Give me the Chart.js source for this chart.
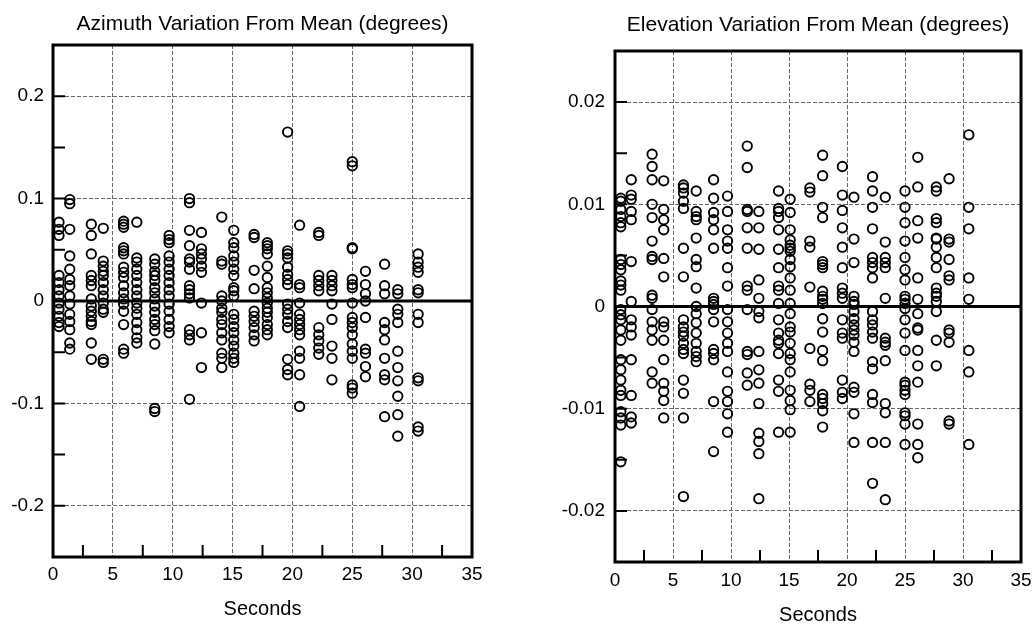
<!DOCTYPE html>
<html>
<head>
<meta charset="utf-8">
<script src="https://cdn.jsdelivr.net/npm/chart.js@4/dist/chart.umd.min.js"></script>
<style>
  html, body { margin: 0; padding: 0; background: #fff; }
  #wrap { position: relative; width: 1033px; height: 625px; overflow: hidden; }
  canvas { position: absolute; top: 0; }
</style>
</head>
<body>
<div id="wrap">
  <canvas id="az" width="520" height="625" style="left:0px"></canvas>
  <canvas id="el" width="513" height="625" style="left:520px"></canvas>
</div>
<script>
// ---- Data ----
const seconds = [0.5, 1.4, 3.2, 4.2, 5.9, 7.0, 8.5, 9.7, 11.4, 12.4, 14.1, 15.1,
                 16.8, 17.9, 19.6, 20.6, 22.2, 23.3, 25.0, 26.1, 27.7, 28.8, 30.5];

const azimuthValues = [
  [0.077, 0.070, 0.064, 0.025, 0.018, 0.011, 0.005, -0.002, -0.008, -0.015, -0.021, -0.025],
  [0.099, 0.095, 0.070, 0.044, 0.031, 0.021, 0.015, 0.005, -0.003, -0.013, -0.020, -0.028, -0.041, -0.047],
  [0.075, 0.064, 0.046, 0.025, 0.020, 0.015, 0.002, -0.005, -0.010, -0.015, -0.020, -0.023, -0.041, -0.057],
  [0.071, 0.039, 0.034, 0.029, 0.025, 0.018, 0.011, 0.005, -0.002, -0.008, -0.011, -0.057, -0.060],
  [0.078, 0.075, 0.072, 0.052, 0.049, 0.046, 0.033, 0.028, 0.023, 0.015, 0.008, 0.002, -0.003, -0.010, -0.023, -0.047, -0.051],
  [0.077, 0.042, 0.038, 0.031, 0.025, 0.018, 0.011, 0.005, -0.002, -0.007, -0.013, -0.021, -0.028, -0.036, -0.041],
  [0.041, 0.036, 0.029, 0.025, 0.020, 0.013, 0.008, 0.002, -0.005, -0.011, -0.018, -0.023, -0.029, -0.042, -0.105, -0.108],
  [0.064, 0.060, 0.057, 0.044, 0.038, 0.031, 0.025, 0.018, 0.011, 0.005, -0.003, -0.010, -0.018, -0.025, -0.031],
  [0.100, 0.096, 0.069, 0.054, 0.041, 0.038, 0.031, 0.015, 0.011, 0.007, 0.003, -0.028, -0.033, -0.038, -0.096],
  [0.067, 0.051, 0.046, 0.041, 0.034, 0.028, -0.002, -0.031, -0.065],
  [0.082, 0.039, 0.036, 0.005, 0.000, -0.007, -0.011, -0.018, -0.023, -0.031, -0.038, -0.051, -0.056, -0.065],
  [0.069, 0.057, 0.052, 0.044, 0.038, 0.031, 0.025, 0.013, 0.010, 0.005, -0.013, -0.018, -0.025, -0.031, -0.038, -0.044, -0.051, -0.056, -0.060],
  [0.065, 0.062, 0.030, 0.012, -0.010, -0.015, -0.020, -0.026, -0.033, -0.039],
  [0.057, 0.054, 0.051, 0.046, 0.034, 0.023, 0.013, 0.008, 0.003, -0.002, -0.007, -0.011, -0.016, -0.023, -0.028, -0.033],
  [0.165, 0.049, 0.046, 0.042, 0.033, 0.026, 0.021, 0.016, -0.003, -0.008, -0.013, -0.020, -0.026, -0.057, -0.067, -0.072],
  [0.074, 0.016, 0.013, -0.002, -0.013, -0.018, -0.023, -0.028, -0.033, -0.049, -0.056, -0.072, -0.103],
  [0.067, 0.064, 0.025, 0.020, 0.015, 0.010, -0.026, -0.033, -0.039, -0.046, -0.052],
  [0.025, 0.020, 0.015, 0.010, -0.003, -0.018, -0.044, -0.056, -0.077],
  [0.136, 0.132, 0.052, 0.051, 0.021, 0.016, 0.013, -0.002, -0.016, -0.021, -0.026, -0.033, -0.042, -0.049, -0.056, -0.082, -0.085, -0.090],
  [0.029, 0.016, 0.007, 0.000, -0.016, -0.047, -0.051, -0.064, -0.074],
  [0.036, 0.015, 0.007, -0.021, -0.028, -0.038, -0.056, -0.072, -0.077, -0.113],
  [0.011, 0.007, -0.008, -0.013, -0.021, -0.049, -0.065, -0.078, -0.093, -0.111, -0.132],
  [0.046, 0.038, 0.033, 0.028, 0.011, 0.008, -0.013, -0.021, -0.075, -0.078, -0.123, -0.127]
];

const elevationValues = [
  [0.0106, 0.0103, 0.0095, 0.0088, 0.0082, 0.0078, 0.0046, 0.0041, 0.0036, 0.0025, 0.0021, 0.0016, -0.0003, -0.0008, -0.0013, -0.0023, -0.0033, -0.0052, -0.0062, -0.0072, -0.0082, -0.0087, -0.0103, -0.0109, -0.0116, -0.0152],
  [0.0124, 0.0109, 0.0105, 0.0093, 0.0085, 0.0044, 0.0005, -0.0013, -0.0020, -0.0028, -0.0052, -0.0087, -0.0108, -0.0114],
  [0.0149, 0.0137, 0.0124, 0.0100, 0.0087, 0.0064, 0.0049, 0.0046, 0.0011, 0.0008, -0.0003, -0.0015, -0.0023, -0.0033, -0.0064, -0.0075],
  [0.0123, 0.0095, 0.0085, 0.0075, 0.0047, 0.0029, -0.0015, -0.0020, -0.0033, -0.0052, -0.0075, -0.0083, -0.0092, -0.0109],
  [0.0119, 0.0116, 0.0111, 0.0103, 0.0096, 0.0057, 0.0029, -0.0013, -0.0020, -0.0025, -0.0029, -0.0036, -0.0042, -0.0046, -0.0072, -0.0085, -0.0109, -0.0186],
  [0.0113, 0.0093, 0.0088, 0.0085, 0.0067, 0.0046, 0.0039, 0.0018, 0.0000, -0.0007, -0.0016, -0.0026, -0.0036, -0.0044, -0.0049, -0.0054],
  [0.0124, 0.0106, 0.0092, 0.0085, 0.0075, 0.0057, 0.0008, 0.0005, 0.0002, -0.0003, -0.0015, -0.0042, -0.0046, -0.0052, -0.0093, -0.0142],
  [0.0108, 0.0093, 0.0075, 0.0064, 0.0057, 0.0038, 0.0020, -0.0003, -0.0015, -0.0026, -0.0036, -0.0044, -0.0064, -0.0083, -0.0093, -0.0105, -0.0123],
  [0.0157, 0.0136, 0.0095, 0.0093, 0.0077, 0.0057, 0.0020, 0.0016, -0.0003, -0.0044, -0.0047, -0.0065, -0.0077],
  [0.0093, 0.0077, 0.0056, 0.0026, 0.0008, -0.0005, -0.0011, -0.0044, -0.0062, -0.0075, -0.0095, -0.0124, -0.0132, -0.0144, -0.0188],
  [0.0113, 0.0096, 0.0093, 0.0087, 0.0075, 0.0056, 0.0038, 0.0020, 0.0016, 0.0003, -0.0013, -0.0026, -0.0033, -0.0036, -0.0046, -0.0072, -0.0083, -0.0123],
  [0.0105, 0.0092, 0.0075, 0.0065, 0.0060, 0.0057, 0.0054, 0.0046, 0.0039, 0.0028, 0.0016, 0.0003, -0.0007, -0.0020, -0.0025, -0.0036, -0.0046, -0.0052, -0.0064, -0.0082, -0.0092, -0.0101, -0.0123],
  [0.0116, 0.0112, 0.0064, 0.0058, 0.0019, -0.0041, -0.0076, -0.0082, -0.0093],
  [0.0148, 0.0128, 0.0097, 0.0087, 0.0044, 0.0041, 0.0038, 0.0015, 0.0010, 0.0007, 0.0003, -0.0012, -0.0025, -0.0043, -0.0053, -0.0086, -0.0090, -0.0095, -0.0102, -0.0118],
  [0.0137, 0.0109, 0.0094, 0.0077, 0.0058, 0.0038, 0.0018, 0.0013, 0.0008, -0.0013, -0.0026, -0.0031, -0.0072, -0.0084, -0.0090],
  [0.0107, 0.0066, 0.0043, 0.0010, 0.0005, 0.0002, -0.0005, -0.0012, -0.0018, -0.0023, -0.0028, -0.0035, -0.0044, -0.0079, -0.0084, -0.0105, -0.0133],
  [0.0127, 0.0113, 0.0097, 0.0076, 0.0048, 0.0043, 0.0038, 0.0028, -0.0005, -0.0013, -0.0018, -0.0025, -0.0031, -0.0054, -0.0061, -0.0086, -0.0094, -0.0133, -0.0173],
  [0.0107, 0.0063, 0.0048, 0.0043, 0.0038, 0.0008, -0.0031, -0.0035, -0.0038, -0.0053, -0.0095, -0.0104, -0.0133, -0.0189],
  [0.0113, 0.0097, 0.0082, 0.0064, 0.0048, 0.0036, 0.0026, 0.0010, 0.0007, 0.0003, -0.0002, -0.0013, -0.0026, -0.0043, -0.0074, -0.0077, -0.0082, -0.0086, -0.0104, -0.0107, -0.0115, -0.0135],
  [0.0146, 0.0117, 0.0084, 0.0067, 0.0028, 0.0007, -0.0007, -0.0021, -0.0023, -0.0043, -0.0058, -0.0074, -0.0115, -0.0135, -0.0148],
  [0.0117, 0.0113, 0.0086, 0.0082, 0.0067, 0.0066, 0.0058, 0.0048, 0.0038, 0.0018, 0.0013, 0.0010, 0.0005, -0.0005, -0.0033, -0.0058],
  [0.0125, 0.0066, 0.0063, 0.0046, 0.0030, 0.0026, -0.0023, -0.0026, -0.0035, -0.0112, -0.0115],
  [0.0168, 0.0097, 0.0076, 0.0028, 0.0007, -0.0043, -0.0064, -0.0135]
];

const xTicks = [0, 5, 10, 15, 20, 25, 30, 35];
const xMinorTicks = [2.5, 7.5, 12.5, 17.5, 22.5, 27.5, 32.5];
const azYTicks = [-0.2, -0.1, 0, 0.1, 0.2];
const azYMinor = [-0.15, -0.05, 0.05, 0.15];
const azRange = [-0.25, 0.25];
const elYTicks = [-0.02, -0.01, 0, 0.01, 0.02];
const elYMinor = [-0.015, -0.005, 0.005, 0.015];
const elRange = [-0.025, 0.025];

// ---- Helpers ----
const FONT = "'Liberation Sans', Arial, Helvetica, sans-serif";

function toPoints(values) {
  const pts = [];
  values.forEach((col, i) => col.forEach(v => pts.push({ x: seconds[i], y: v })));
  return pts;
}

const frameTicks = {
  id: 'frameTicks',
  afterDatasetsDraw(chart, args, opts) {
    const { ctx, chartArea: a, scales: { x, y } } = chart;
    ctx.save();
    ctx.strokeStyle = '#000';
    ctx.lineWidth = 2;
    ctx.beginPath();
    opts.yMarks.forEach(v => {
      const py = y.getPixelForValue(v);
      ctx.moveTo(a.left, py); ctx.lineTo(a.left + opts.len, py);
    });
    opts.xMarks.forEach(v => {
      const px = x.getPixelForValue(v);
      ctx.moveTo(px, a.bottom); ctx.lineTo(px, a.bottom - opts.len);
    });
    ctx.stroke();
    ctx.lineWidth = 3;
    ctx.strokeRect(a.left, a.top, a.right - a.left, a.bottom - a.top);
    ctx.restore();
  }
};

function makeChart(id, cfg) {
  const ctx = document.getElementById(id).getContext('2d');
  return new Chart(ctx, {
    type: 'scatter',
    data: {
      datasets: [
        {
          type: 'line',
          data: [{ x: xTicks[0], y: 0 }, { x: xTicks[xTicks.length - 1], y: 0 }],
          borderColor: '#000', borderWidth: 3, pointRadius: 0, fill: false
        },
        {
          data: toPoints(cfg.values),
          pointStyle: 'circle',
          pointRadius: 4.7,
          borderWidth: 1.9,
          borderColor: '#000',
          backgroundColor: 'rgba(0,0,0,0)',
          pointBackgroundColor: 'rgba(0,0,0,0)'
        }
      ]
    },
    plugins: [frameTicks],
    options: {
      responsive: false,
      animation: false,
      devicePixelRatio: 1,
      layout: { padding: { left: 0, right: cfg.padRight, top: 0, bottom: 0 } },
      plugins: {
        legend: { display: false },
        tooltip: { enabled: false },
        title: {
          display: true, fullSize: false,
          text: cfg.title, color: '#000',
          font: { family: FONT, size: 21, weight: 'normal', lineHeight: 1 },
          padding: cfg.titlePad
        },
        frameTicks: { yMarks: cfg.yTicks.concat(cfg.yMinor), xMarks: xMinorTicks, len: 12 }
      },
      scales: {
        x: {
          type: 'linear', min: xTicks[0], max: xTicks[xTicks.length - 1],
          afterBuildTicks: s => { s.ticks = xTicks.map(v => ({ value: v })); },
          afterFit: s => { s.height = cfg.xHeight; s.paddingLeft = 0; s.paddingRight = 0; },
          grid: { color: '#666', lineWidth: 1, drawTicks: false },
          border: { display: false, dash: [4, 2] },
          ticks: {
            color: '#000', padding: cfg.xTickPad, maxRotation: 0, autoSkip: false,
            font: { family: FONT, size: 19, lineHeight: 1.2 },
            callback: v => String(v)
          },
          title: {
            display: true, text: 'Seconds', color: '#000',
            font: { family: FONT, size: 20, lineHeight: 1 },
            padding: { top: 0, bottom: cfg.secPad }
          }
        },
        y: {
          type: 'linear', min: cfg.range[0], max: cfg.range[1],
          afterBuildTicks: s => { s.ticks = cfg.yTicks.map(v => ({ value: v })); },
          afterFit: s => { s.width = cfg.yWidth; s.paddingTop = 0; s.paddingBottom = 0; },
          grid: { color: '#666', lineWidth: 1, drawTicks: false },
          border: { display: false, dash: [4, 2] },
          ticks: {
            color: '#000', padding: cfg.yTickPad, autoSkip: false,
            font: { family: FONT, size: 19, lineHeight: 1.2 },
            callback: v => String(v)
          }
        }
      }
    }
  });
}

makeChart('az', {
  title: 'Azimuth Variation From Mean (degrees)',
  values: azimuthValues, yTicks: azYTicks, yMinor: azYMinor, range: azRange,
  padRight: 48, yWidth: 53, xHeight: 68,
  titlePad: { top: 14, bottom: 10 },
  xTickPad: 6, yTickPad: 9, secPad: 6
});

makeChart('el', {
  title: 'Elevation Variation From Mean (degrees)',
  values: elevationValues, yTicks: elYTicks, yMinor: elYMinor, range: elRange,
  padRight: 12, yWidth: 95, xHeight: 63,
  titlePad: { top: 15, bottom: 15 },
  xTickPad: 7, yTickPad: 10, secPad: 0
});
</script>
</body>
</html>
